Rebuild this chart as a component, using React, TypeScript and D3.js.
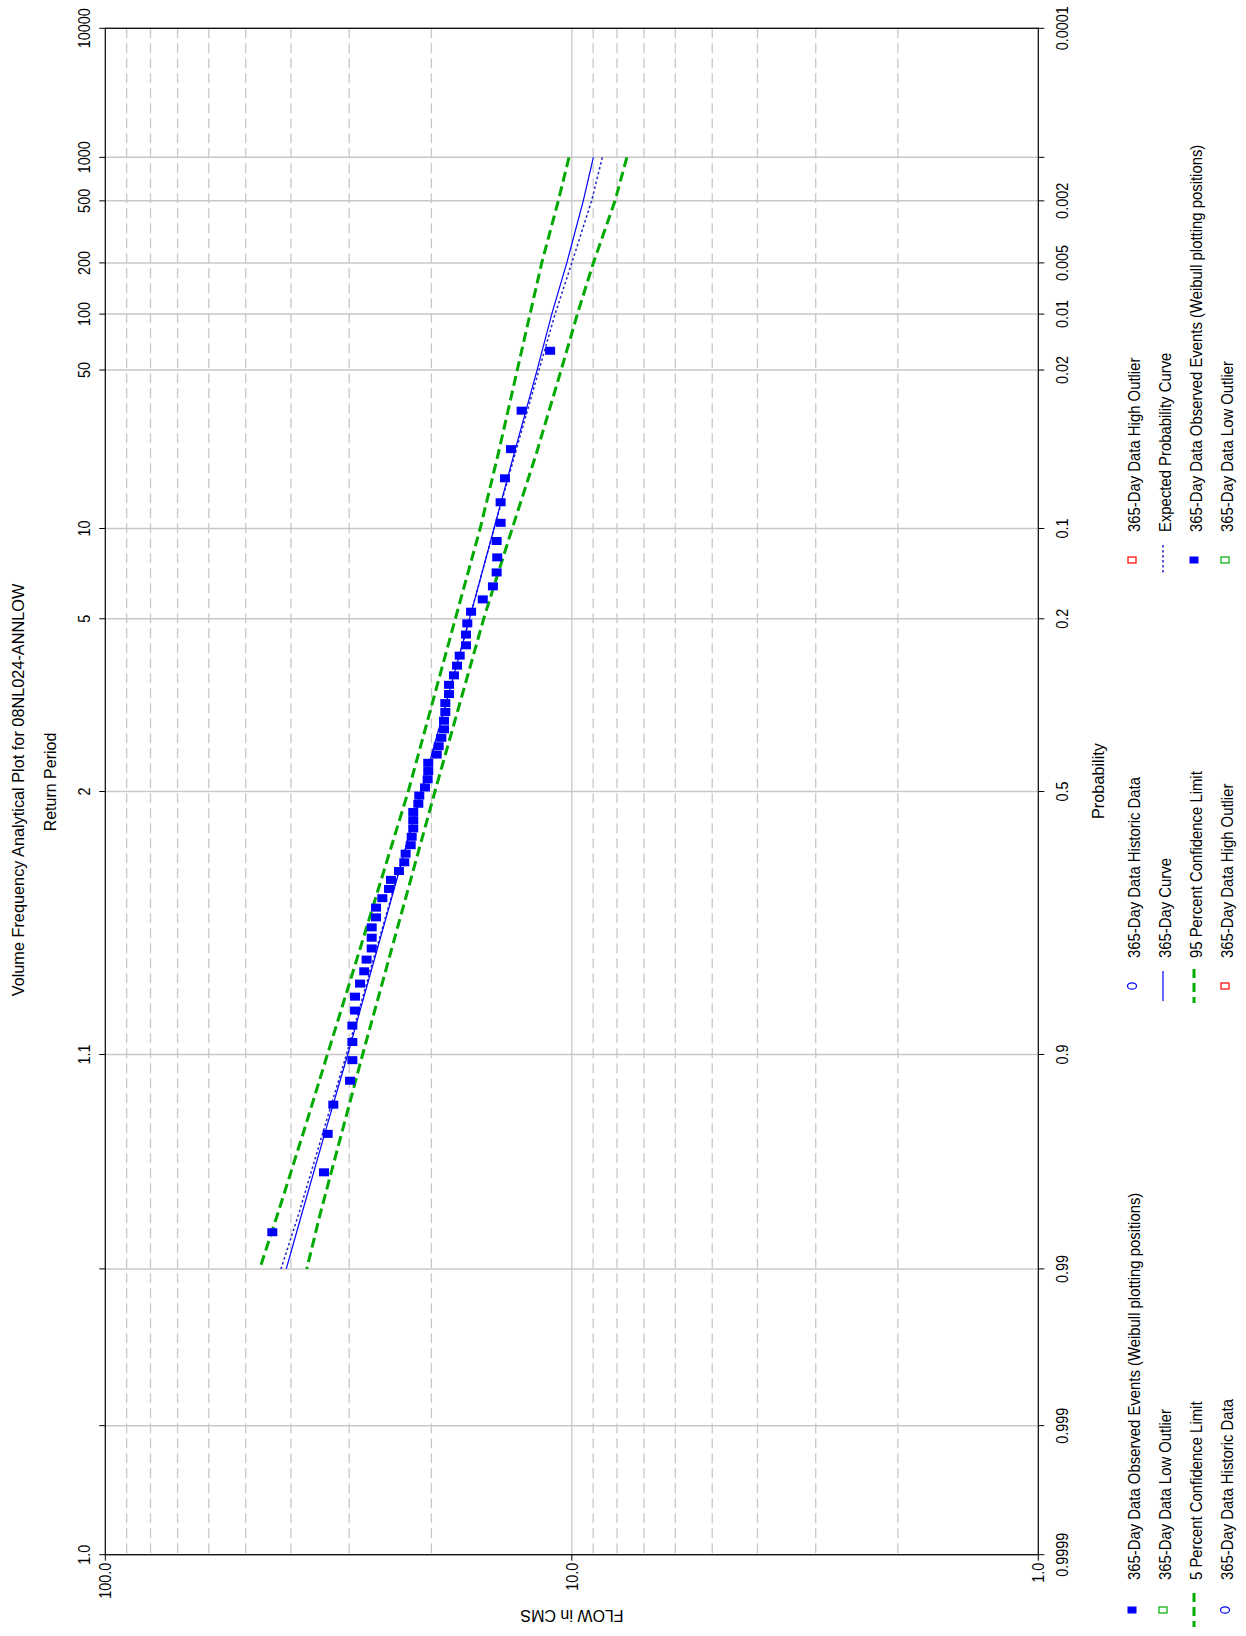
import React from 'react';
import * as d3 from 'd3';

const W = 1246;
const H = 1636;

// Plot frame
const L = 105.3;
const R = 1038.3;
const T = 28.3;
const B = 1554.7;

// Probability grid (exceedance probability) with matching return-period labels
const probTicks = [0.0001, 0.001, 0.002, 0.005, 0.01, 0.02, 0.1, 0.2, 0.5, 0.9, 0.99, 0.999, 0.9999];
const returnPeriodLabels = ['10000', '1000', '500', '200', '100', '50', '10', '5', '2', '1.1', '', '', '1.0'];
const probabilityLabels = ['0.0001', '', '0.002', '0.005', '0.01', '0.02', '0.1', '0.2', '0.5', '0.9', '0.99', '0.999', '0.9999'];

// Flow axis
const flowTicks = [100, 10, 1];
const flowTickLabels = ['100.0', '10.0', '1.0'];
const flowDashedGrid = [90, 80, 70, 60, 50, 40, 30, 20, 9, 8, 7, 6, 5, 4, 3, 2];

// Observed 365-day volumes (CMS), rank 1 first
const observedFlows = [
  11.13, 12.81, 13.5, 13.91, 14.21, 14.21, 14.49, 14.45, 14.49, 14.76,
  15.52, 16.44, 16.75, 16.86, 16.86, 17.39, 17.62, 17.89, 18.33, 18.33,
  18.67, 18.67, 18.79, 18.79, 19.04, 19.29, 19.48, 20.31, 20.31, 20.37,
  20.64, 21.23, 21.33, 21.87, 21.87, 21.87, 22.04, 22.15, 22.71, 22.86,
  23.47, 24.41, 24.65, 25.48, 26.28, 26.28, 26.85, 26.85, 26.85, 27.53,
  27.86, 28.44, 29.15, 29.15, 29.54, 29.54, 29.54, 29.88, 32.45, 33.37,
  33.98, 43.85,
];

// Fitted curves, evaluated at these exceedance probabilities
const curveProbs = [0.001, 0.002, 0.005, 0.01, 0.02, 0.05, 0.1, 0.2, 0.5, 0.8, 0.9, 0.95, 0.98, 0.99];
const dayCurve = [8.99, 9.45, 10.25, 11.04, 11.87, 13.3, 14.68, 16.57, 21.0, 26.67, 30.22, 33.64, 37.87, 40.93];
const expectedCurve = [8.6, 9.07, 10.0, 10.86, 11.76, 13.23, 14.68, 16.57, 21.0, 26.8, 30.41, 33.98, 38.44, 42.01];
const limit95 = [10.14, 10.69, 11.6, 12.29, 13.09, 14.38, 15.72, 17.77, 22.42, 29.11, 33.41, 37.41, 42.64, 46.67];
const limit5 = [7.62, 8.08, 8.99, 9.73, 10.54, 11.92, 13.42, 15.45, 19.65, 24.84, 28.08, 30.97, 34.58, 37.0];

const BLUE = '#0000ff';
const GREEN = '#00aa00';
const RED = '#ff0000';
const GRID = '#c8c8c8';
const FONT = '"Liberation Sans", Arial, sans-serif';

// Inverse standard normal CDF (Acklam)
function probit(p: number): number {
  const a = [-3.969683028665376e1, 2.209460984245205e2, -2.759285104469687e2, 1.38357751867269e2, -3.066479806614716e1, 2.506628277459239];
  const b = [-5.447609879822406e1, 1.615858368580409e2, -1.556989798598866e2, 6.680131188771972e1, -1.328068155288572e1];
  const c = [-7.784894002430293e-3, -3.223964580411365e-1, -2.400758277161838, -2.549671348433246, 4.374664141464968, 2.938163982698783];
  const d = [7.784695709041462e-3, 3.224671290700398e-1, 2.445134137142996, 3.754408661907416];
  const pl = 0.02425;
  if (p < pl) {
    const q = Math.sqrt(-2 * Math.log(p));
    return (((((c[0] * q + c[1]) * q + c[2]) * q + c[3]) * q + c[4]) * q + c[5]) / ((((d[0] * q + d[1]) * q + d[2]) * q + d[3]) * q + 1);
  }
  if (p <= 1 - pl) {
    const q = p - 0.5;
    const r = q * q;
    return ((((((a[0] * r + a[1]) * r + a[2]) * r + a[3]) * r + a[4]) * r + a[5]) * q) / (((((b[0] * r + b[1]) * r + b[2]) * r + b[3]) * r + b[4]) * r + 1);
  }
  const q = Math.sqrt(-2 * Math.log(1 - p));
  return -(((((c[0] * q + c[1]) * q + c[2]) * q + c[3]) * q + c[4]) * q + c[5]) / ((((d[0] * q + d[1]) * q + d[2]) * q + d[3]) * q + 1);
}

const zTop = -probit(0.0001);
const zScale = d3.scaleLinear().domain([zTop, -zTop]).range([T, B]);
const yOf = (p: number) => zScale(-probit(p));
const xScale = d3.scaleLog().domain([100, 1]).range([L, R]);

type RTProps = { x: number; y: number; text: string; anchor?: string; rot?: number; size?: number; sx?: number };
function RText({ x, y, text, anchor = 'middle', rot = -90, size = 16, sx = 0.9 }: RTProps) {
  return (
    <text
      transform={`translate(${x},${y}) rotate(${rot}) scale(${sx},1)`}
      textAnchor={anchor}
      fontFamily={FONT}
      fontSize={size}
      fill="#000"
    >
      {text}
    </text>
  );
}

function curvePath(values: number[]) {
  const line = d3
    .line<number>()
    .x((v) => xScale(v))
    .y((_, i) => yOf(curveProbs[i]));
  return line(values) || '';
}

type LegendItem = { kind: string; label: string };
const legendA: LegendItem[] = [
  { kind: 'obs', label: '365-Day Data Observed Events (Weibull plotting positions)' },
  { kind: 'low', label: '365-Day Data Low Outlier' },
  { kind: 'dash', label: '5 Percent Confidence Limit' },
  { kind: 'hist', label: '365-Day Data Historic Data' },
];
const legendB: LegendItem[] = [
  { kind: 'hist', label: '365-Day Data Historic Data' },
  { kind: 'solid', label: '365-Day Curve' },
  { kind: 'dash', label: '95 Percent Confidence Limit' },
  { kind: 'high', label: '365-Day Data High Outlier' },
];
const legendC: LegendItem[] = [
  { kind: 'high', label: '365-Day Data High Outlier' },
  { kind: 'dot', label: 'Expected Probability Curve' },
  { kind: 'obs', label: '365-Day Data Observed Events (Weibull plotting positions)' },
  { kind: 'low', label: '365-Day Data Low Outlier' },
];
const legendRows = [1132, 1163, 1194, 1225];

function LegendSymbol({ kind, x, y }: { kind: string; x: number; y: number }) {
  switch (kind) {
    case 'obs':
      return <rect x={x - 4.5} y={y - 3.5} width={9} height={7} fill={BLUE} />;
    case 'low':
      return <rect x={x - 4} y={y - 3} width={8} height={6} fill="none" stroke={GREEN} strokeWidth={1.2} />;
    case 'high':
      return <rect x={x - 4} y={y - 3} width={8} height={6} fill="none" stroke={RED} strokeWidth={1.2} />;
    case 'hist':
      return <ellipse cx={x} cy={y} rx={4.5} ry={3.2} fill="none" stroke={BLUE} strokeWidth={1.2} />;
    case 'dash':
      return <line x1={x} x2={x} y1={y - 17} y2={y + 17} stroke={GREEN} strokeWidth={3} strokeDasharray="9,5" />;
    case 'solid':
      return <line x1={x} x2={x} y1={y - 15} y2={y + 15} stroke={BLUE} strokeWidth={1.2} />;
    case 'dot':
      return <line x1={x} x2={x} y1={y - 15} y2={y + 15} stroke="#2222cc" strokeWidth={1.5} strokeDasharray="2.5,2.5" />;
    default:
      return null;
  }
}

function LegendGroup({ items, symY, textY }: { items: LegendItem[]; symY: number; textY: number }) {
  return (
    <g>
      {items.map((it, i) => (
        <g key={i}>
          <LegendSymbol kind={it.kind} x={legendRows[i]} y={symY} />
          <RText x={legendRows[i] + 8} y={textY} text={it.label} anchor="start" sx={0.93} />
        </g>
      ))}
    </g>
  );
}

export default function App() {
  const n = observedFlows.length;
  return (
    <svg
      width={W}
      height={H}
      viewBox={`0 0 ${W} ${H}`}
      style={{ position: 'absolute', left: 0, top: 0, background: '#fff', display: 'block' }}
    >
      <rect x={0} y={0} width={W} height={H} fill="#fff" />

      {/* vertical dashed flow grid */}
      {flowDashedGrid.map((f) => (
        <line key={`v${f}`} x1={xScale(f)} x2={xScale(f)} y1={T} y2={B} stroke={GRID} strokeWidth={1.3} strokeDasharray="10,5" />
      ))}
      <line x1={xScale(10)} x2={xScale(10)} y1={T} y2={B} stroke={GRID} strokeWidth={1.3} />

      {/* horizontal probability grid */}
      {probTicks.map((p) => (
        <line key={`h${p}`} x1={L} x2={R} y1={yOf(p)} y2={yOf(p)} stroke={GRID} strokeWidth={1.5} />
      ))}

      {/* frame */}
      <rect x={L} y={T} width={R - L} height={B - T} fill="none" stroke="#000" strokeWidth={1.2} />

      {/* ticks */}
      {probTicks.map((p) => (
        <g key={`t${p}`}>
          <line x1={L - 6} x2={L} y1={yOf(p)} y2={yOf(p)} stroke="#000" strokeWidth={1} />
          <line x1={R} x2={R + 6} y1={yOf(p)} y2={yOf(p)} stroke="#000" strokeWidth={1} />
        </g>
      ))}
      {flowTicks.map((f) => (
        <line key={`ft${f}`} x1={xScale(f)} x2={xScale(f)} y1={B} y2={B + 6} stroke="#000" strokeWidth={1} />
      ))}

      {/* tick labels */}
      {probTicks.map((p, i) =>
        returnPeriodLabels[i] ? <RText key={`rl${i}`} x={90} y={yOf(p)} text={returnPeriodLabels[i]} /> : null
      )}
      {probTicks.map((p, i) =>
        probabilityLabels[i] ? <RText key={`pl${i}`} x={1068} y={yOf(p)} text={probabilityLabels[i]} /> : null
      )}
      {flowTicks.map((f, i) => (
        <RText key={`fl${i}`} x={xScale(f) + 6} y={B + 8} text={flowTickLabels[i]} anchor="end" />
      ))}

      {/* titles */}
      <RText x={24} y={790} text="Volume Frequency Analytical Plot for 08NL024-ANNLOW" size={16.3} sx={1.0} />
      <RText x={56} y={782} text="Return Period" size={16} sx={1.0} />
      <RText x={1104} y={781} text="Probability" size={16.3} sx={1.0} />
      <RText x={572} y={1610} text="FLOW in CMS" size={16} sx={1.0} rot={180} />

      {/* curves */}
      <path d={curvePath(limit95)} fill="none" stroke={GREEN} strokeWidth={3} strokeDasharray="10,5" />
      <path d={curvePath(limit5)} fill="none" stroke={GREEN} strokeWidth={3} strokeDasharray="10,5" />
      <path d={curvePath(expectedCurve)} fill="none" stroke="#2222cc" strokeWidth={1.5} strokeDasharray="2.5,2.5" />
      <path d={curvePath(dayCurve)} fill="none" stroke={BLUE} strokeWidth={1.2} />

      {/* observed events, Weibull plotting positions */}
      {observedFlows.map((f, i) => {
        const p = (i + 1) / (n + 1);
        return <rect key={`o${i}`} x={xScale(f) - 5} y={yOf(p) - 4} width={10} height={8} fill={BLUE} />;
      })}

      {/* legend */}
      <LegendGroup items={legendA} symY={1610} textY={1580} />
      <LegendGroup items={legendB} symY={986} textY={958} />
      <LegendGroup items={legendC} symY={560} textY={532} />
    </svg>
  );
}
